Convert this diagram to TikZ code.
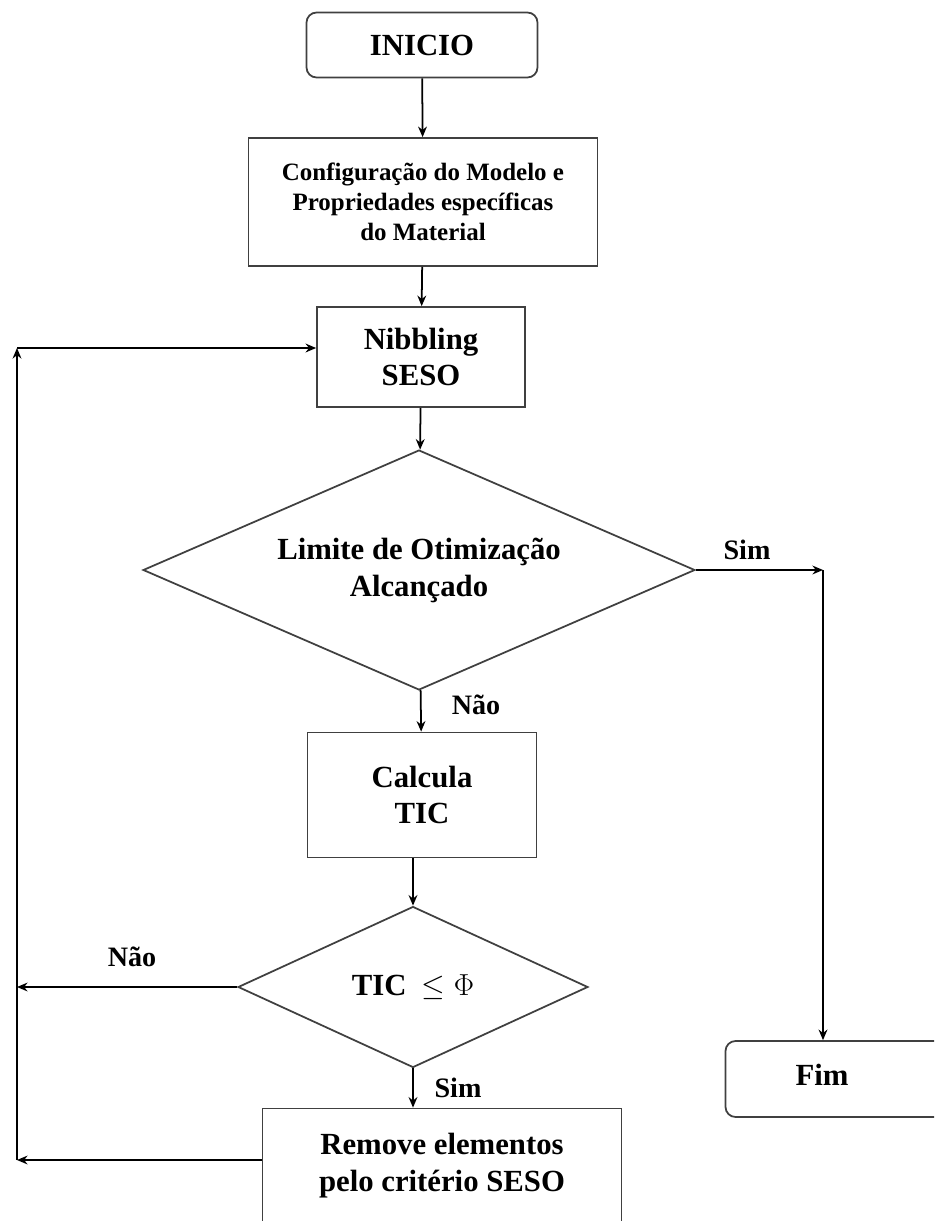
\documentclass[tikz,border=0pt]{standalone}
\usepackage{fontspec}
\setmainfont{Liberation Serif}
\usetikzlibrary{arrows.meta,positioning,shapes.geometric}
\tikzset{
  box/.style={draw=black!75,line width=1pt,inner sep=0pt,align=center},
  term/.style={box,rounded corners=0.2cm},
  cond/.style={draw=black!75,line width=1pt,diamond,inner sep=0pt,align=center},
  lbl/.style={inner sep=0pt,font=\bfseries\fontsize{16}{19}\selectfont},
}
\begin{document}
\begin{tikzpicture}[x=0.02cm,y=-0.02cm,>={Stealth[length=6pt,width=5pt]},line width=1pt,font=\bfseries\fontsize{17.5}{21}\selectfont]
 \useasboundingbox (0,0) rectangle (934,1221);
 \clip (0,0) rectangle (934,1221);
 \node[term,minimum width=4.62cm,minimum height=1.3cm] (inicio) at (422,45) {INICIO};
 \node[box,minimum width=6.98cm,minimum height=2.56cm,font=\bfseries\fontsize{14.2}{17}\selectfont] (config) at (423,202)
   {Configuração do Modelo e\\Propriedades específicas\\do Material};
 \node[box,minimum width=4.16cm,minimum height=2cm] (nib) at (421,357) {Nibbling\\SESO};
 \node[cond,aspect=2.3,minimum width=11.04cm,minimum height=4.8cm] (lim) at (419,570) {Limite de Otimização\\Alcançado};
 \node[box,minimum width=4.58cm,minimum height=2.5cm] (calc) at (422,795) {Calcula\\TIC};
 \node[cond,aspect=2.17,minimum width=7cm,minimum height=3.22cm] (tic) at (413,987) {TIC\ \ $\leq\Phi$};
 \node[box,minimum width=7.18cm,minimum height=2.3cm] (rem) at (442,1166) {Remove elementos\\pelo critério SESO};
 \node[term,minimum width=4.7cm,minimum height=1.52cm] (fim) at (843,1079) {};
 \node[inner sep=0pt] (fimtxt) at (822,1075) {Fim};
 \coordinate (simc) at (823,570);
 \coordinate (ltop) at (17,348);
 \coordinate (lbot) at (17,1160);
 \draw[->] (inicio) -- (config);
 \draw[->] (config) -- (nib);
 \draw[->] (nib) -- (lim);
 \draw[->] (lim) -- (calc);
 \draw[->] (calc.south -| tic.north) -- (tic);
 \draw[->] (tic) -- (tic.south |- rem.north);
 \draw[->] (lim.east) -- (simc);
 \draw[->] (simc) -- (simc |- fim.north);
 \draw[->] (tic.west) -- (tic.west -| lbot);
 \draw[->] (rem.west |- lbot) -- (lbot);
 \draw[->] (lbot) -- (ltop);
 \draw[->] (ltop) -- (ltop -| nib.west);
 \node[lbl] (sim1) at (747,550) {Sim};
 \node[lbl] (nao1) at (476,705) {Não};
 \node[lbl] (nao2) at (132,957) {Não};
 \node[lbl] (sim2) at (458,1088) {Sim};
\end{tikzpicture}
\end{document}
